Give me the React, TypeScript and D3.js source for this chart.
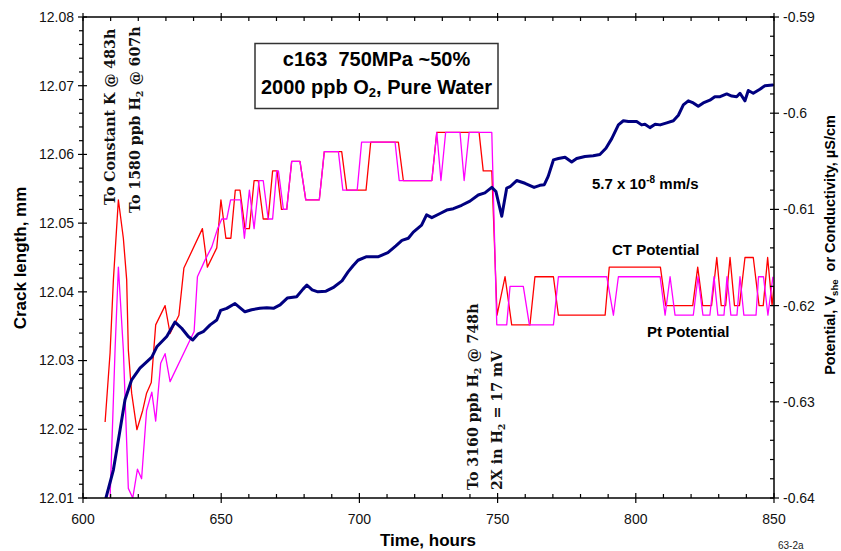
import React from "react";
import * as d3 from "d3";

// ---- data ----
const xTicks = [600, 650, 700, 750, 800, 850];
const leftTicks = [12.01, 12.02, 12.03, 12.04, 12.05, 12.06, 12.07, 12.08];
const rightTicks = [-0.64, -0.63, -0.62, -0.61, -0.6, -0.59];

// crack length (mm) vs time (h)
const crackLength: [number, number][] = [
  [608.3,12.0100],[611.0,12.0141],[613.4,12.0199],[615.2,12.0243],[617.6,12.0272],[620.6,12.0289],[624.9,12.0305],[626.7,12.0320],[630.3,12.0335],[633.3,12.0356],[635.7,12.0347],[638.1,12.0335],[639.7,12.0330],[641.7,12.0339],[643.5,12.0342],[646.0,12.0352],[648.4,12.0359],[649.8,12.0373],[652.0,12.0376],[655.0,12.0383],[658.6,12.0371],[661.0,12.0374],[664.0,12.0376],[666.5,12.0377],[668.9,12.0376],[671.3,12.0381],[673.9,12.0391],[677.3,12.0393],[679.6,12.0404],[681.0,12.0410],[682.9,12.0403],[685.0,12.0400],[687.9,12.0401],[690.8,12.0407],[693.7,12.0416],[695.9,12.0429],[697.7,12.0438],[699.5,12.0446],[702.4,12.0451],[706.7,12.0451],[710.3,12.0457],[713.2,12.0467],[715.4,12.0475],[717.7,12.0478],[719.5,12.0487],[722.5,12.0497],[724.3,12.0512],[726.2,12.0508],[729.2,12.0514],[731.6,12.0519],[734.0,12.0521],[737.0,12.0526],[740.0,12.0532],[743.0,12.0541],[745.4,12.0544],[747.9,12.0552],[749.4,12.0546],[751.5,12.0510],[753.3,12.0551],[754.5,12.0553],[756.9,12.0562],[759.9,12.0558],[763.2,12.0552],[765.3,12.0555],[766.9,12.0556],[768.3,12.0568],[770.2,12.0592],[772.0,12.0594],[774.4,12.0596],[776.8,12.0589],[778.6,12.0594],[781.6,12.0597],[784.6,12.0598],[787.0,12.0600],[789.2,12.0609],[791.3,12.0623],[793.7,12.0643],[795.5,12.0649],[797.3,12.0648],[800.3,12.0648],[802.1,12.0643],[803.3,12.0644],[805.1,12.0639],[807.0,12.0644],[808.8,12.0643],[811.2,12.0646],[813.6,12.0649],[815.4,12.0657],[817.2,12.0672],[819.0,12.0678],[820.8,12.0675],[822.6,12.0670],[824.4,12.0675],[826.8,12.0679],[828.6,12.0684],[830.5,12.0684],[832.9,12.0688],[834.7,12.0685],[836.5,12.0684],[837.7,12.0689],[839.5,12.0678],[840.7,12.0693],[842.5,12.0689],[844.9,12.0695],[846.7,12.0700],[849.5,12.0701]
];

// CT potential (V she) vs time (h)
const ctPotential: [number, number][] = [
  [608.0,-0.6321],[609.8,-0.6249],[611.0,-0.6173],[612.8,-0.6090],[614.6,-0.6130],[615.8,-0.6173],[616.4,-0.6246],[617.6,-0.6291],[619.5,-0.6329],[621.6,-0.6309],[623.0,-0.6291],[624.7,-0.6280],[626.3,-0.6220],[629.7,-0.6200],[631.5,-0.6229],[634.7,-0.6210],[636.5,-0.6161],[643.2,-0.6120],[645.0,-0.6160],[648.4,-0.6140],[649.9,-0.6090],[651.7,-0.6130],[653.5,-0.6130],[655.1,-0.6080],[656.8,-0.6080],[658.6,-0.6120],[660.2,-0.6120],[661.9,-0.6070],[663.4,-0.6070],[665.2,-0.6110],[667.0,-0.6110],[668.6,-0.6060],[670.2,-0.6060],[671.8,-0.6100],[673.7,-0.6100],[675.5,-0.6050],[678.5,-0.6050],[680.6,-0.6090],[685.5,-0.6090],[687.3,-0.6040],[693.6,-0.6040],[695.4,-0.6080],[702.4,-0.6080],[704.1,-0.6030],[714.1,-0.6030],[715.9,-0.6070],[726.2,-0.6070],[728.0,-0.6020],[743.3,-0.6020],[744.8,-0.6060],[747.9,-0.6060],[749.8,-0.6210],[752.7,-0.6170],[755.1,-0.6220],[761.7,-0.6220],[763.5,-0.6170],[770.2,-0.6170],[772.0,-0.6210],[788.9,-0.6210],[790.4,-0.6160],[808.9,-0.6160],[810.8,-0.6200],[820.6,-0.6200],[822.4,-0.6160],[824.2,-0.6200],[827.4,-0.6200],[829.3,-0.6150],[830.9,-0.6200],[832.5,-0.6200],[834.1,-0.6150],[835.7,-0.6200],[837.5,-0.6200],[839.5,-0.6150],[842.5,-0.6150],[844.6,-0.6200],[846.1,-0.6200],[847.7,-0.6150],[849.3,-0.6200],[850.0,-0.6180]
];

// Pt potential (V she) vs time (h)
const ptPotential: [number, number][] = [
  [609.8,-0.6400],[611.6,-0.6246],[612.8,-0.6160],[614.6,-0.6246],[616.4,-0.6390],[618.0,-0.6400],[619.7,-0.6370],[621.2,-0.6380],[623.0,-0.6309],[624.9,-0.6290],[626.3,-0.6320],[628.1,-0.6260],[629.7,-0.6250],[631.5,-0.6279],[640.2,-0.6227],[641.4,-0.6170],[644.1,-0.6153],[646.6,-0.6139],[648.7,-0.6120],[650.2,-0.6110],[652.0,-0.6110],[653.4,-0.6090],[657.0,-0.6090],[658.4,-0.6130],[660.2,-0.6080],[661.9,-0.6120],[663.7,-0.6070],[665.2,-0.6070],[667.0,-0.6110],[668.6,-0.6110],[670.1,-0.6060],[670.7,-0.6060],[672.5,-0.6100],[673.7,-0.6100],[675.5,-0.6050],[678.5,-0.6050],[680.6,-0.6090],[685.5,-0.6090],[687.3,-0.6040],[692.4,-0.6040],[694.0,-0.6080],[699.2,-0.6080],[700.8,-0.6030],[712.9,-0.6030],[714.4,-0.6070],[726.2,-0.6070],[728.0,-0.6020],[729.5,-0.6070],[731.2,-0.6020],[736.4,-0.6020],[737.9,-0.6070],[739.7,-0.6020],[747.9,-0.6020],[749.7,-0.6220],[753.3,-0.6220],[754.5,-0.6180],[759.3,-0.6180],[761.5,-0.6220],[770.2,-0.6220],[772.0,-0.6170],[789.5,-0.6170],[791.9,-0.6210],[793.7,-0.6170],[808.8,-0.6170],[810.6,-0.6210],[812.4,-0.6170],[814.2,-0.6210],[820.8,-0.6210],[822.5,-0.6170],[824.3,-0.6210],[826.8,-0.6210],[828.3,-0.6170],[829.7,-0.6210],[831.9,-0.6210],[833.0,-0.6170],[834.4,-0.6210],[836.6,-0.6210],[837.7,-0.6170],[839.1,-0.6210],[843.5,-0.6210],[844.4,-0.6170],[846.2,-0.6170],[847.8,-0.6210],[849.6,-0.6170]
];

const SANS = "'Liberation Sans', Arial, Helvetica, sans-serif";
const SERIF = "'DejaVu Serif', serif";

export default function App() {
  const W = 841, H = 551;
  const L = 83, R = 774, T = 17, B = 498;
  const x = d3.scaleLinear().domain([600, 850]).range([L, R]);
  const yL = d3.scaleLinear().domain([12.01, 12.08]).range([B, T]);
  const yR = d3.scaleLinear().domain([-0.64, -0.59]).range([B, T]);

  const lineL = d3.line<[number, number]>().x(d => x(d[0])).y(d => yL(d[1]));
  const lineR = d3.line<[number, number]>().x(d => x(d[0])).y(d => yR(d[1]));

  const xMinor = d3.range(600, 851, 10).filter(v => v % 50 !== 0);
  const lMinor = d3.range(0, 36).map(i => 12.01 + i * 0.002).filter((v, i) => i % 5 !== 0);
  const rMinor = d3.range(0, 26).map(i => -0.64 + i * 0.002).filter((v, i) => i % 5 !== 0);

  const fmtL = (v: number) => v.toFixed(2);
  const fmtR = (v: number) => d3.format(".2~f")(v).replace("−", "-");

  return (
    <svg width={W} height={H} style={{ position: "absolute", left: 0, top: 0, background: "#fff" }} fontFamily={SANS}>
      <defs>
        <clipPath id="plot"><rect x={L} y={T} width={R - L} height={B - T} /></clipPath>
      </defs>
      <rect x={0} y={0} width={W} height={H} fill="#fff" />

      {/* series */}
      <g clipPath="url(#plot)" fill="none" strokeLinejoin="round">
        <path d={lineR(ctPotential) || ""} stroke="#ff0000" strokeWidth={1.3} />
        <path d={lineR(ptPotential) || ""} stroke="#ff00ff" strokeWidth={1.3} />
        <path d={lineL(crackLength) || ""} stroke="#000080" strokeWidth={3} strokeLinecap="round" />
      </g>

      {/* frame */}
      <g stroke="#000" strokeWidth={1.5} fill="none">
        <line x1={L} y1={T} x2={R} y2={T} />
        <line x1={L} y1={B} x2={R} y2={B} />
        <line x1={L} y1={T} x2={L} y2={B} />
        <line x1={R} y1={T} x2={R} y2={B} />
      </g>

      {/* ticks */}
      <g stroke="#000" strokeWidth={1.2}>
        {xTicks.map(v => (
          <g key={"xt" + v}>
            <line x1={x(v)} x2={x(v)} y1={B - 5} y2={B + 5} />
            <line x1={x(v)} x2={x(v)} y1={T - 4} y2={T + 4} />
          </g>
        ))}
        {xMinor.map(v => (
          <g key={"xm" + v}>
            <line x1={x(v)} x2={x(v)} y1={B - 4} y2={B} />
            <line x1={x(v)} x2={x(v)} y1={T} y2={T + 4} />
          </g>
        ))}
        {leftTicks.map(v => (
          <line key={"lt" + v} x1={L - 5} x2={L + 4} y1={yL(v)} y2={yL(v)} />
        ))}
        {lMinor.map((v, i) => (
          <line key={"lm" + i} x1={L - 4} x2={L} y1={yL(v)} y2={yL(v)} />
        ))}
        {rightTicks.map(v => (
          <line key={"rt" + v} x1={R - 4} x2={R + 5} y1={yR(v)} y2={yR(v)} />
        ))}
        {rMinor.map((v, i) => (
          <line key={"rm" + i} x1={R - 4} x2={R} y1={yR(v)} y2={yR(v)} />
        ))}
      </g>

      {/* tick labels */}
      <g fontSize={14} fill="#111">
        {xTicks.map(v => (
          <text key={"xl" + v} x={x(v)} y={524} textAnchor="middle">{v}</text>
        ))}
        {leftTicks.map(v => (
          <text key={"ll" + v} x={74} y={yL(v)} dy="0.35em" textAnchor="end">{fmtL(v)}</text>
        ))}
        {rightTicks.map(v => (
          <text key={"rl" + v} x={783} y={yR(v)} dy="0.35em" textAnchor="start">{fmtR(v)}</text>
        ))}
      </g>

      {/* axis titles */}
      <text x={428} y={546} textAnchor="middle" fontSize={17} fontWeight="bold">Time, hours</text>
      <text transform={`translate(26,258) rotate(-90)`} textAnchor="middle" fontSize={17} fontWeight="bold">Crack length, mm</text>
      <text transform={`translate(835,245) rotate(-90)`} textAnchor="middle" fontSize={14.5} fontWeight="bold" style={{ whiteSpace: "pre" }}>
        Potential, V<tspan fontSize={9.5} dy={3}>she</tspan><tspan dy={-3}>{"  or Conductivity, µS/cm"}</tspan>
      </text>
      <text x={778} y={549} fontSize={10} fill="#222">63-2a</text>

      {/* title box */}
      <rect x={255} y={43.5} width={243} height={65} fill="#fff" stroke="#333" strokeWidth={1.5} />
      <text x={376.5} y={66} textAnchor="middle" fontSize={20} fontWeight="bold" style={{ whiteSpace: "pre" }}>c163  750MPa ~50%</text>
      <text x={376.5} y={94} textAnchor="middle" fontSize={20} fontWeight="bold">
        2000 ppb O<tspan fontSize={13} dy={3}>2</tspan><tspan dy={-3}>, Pure Water</tspan>
      </text>

      {/* in-plot labels */}
      <text x={592} y={189} fontSize={15} fontWeight="bold">
        5.7 x 10<tspan fontSize={10} dy={-6}>-8</tspan><tspan dy={6}> mm/s</tspan>
      </text>
      <text x={612} y={255} fontSize={15} fontWeight="bold">CT Potential</text>
      <text x={647} y={337} fontSize={15} fontWeight="bold">Pt Potential</text>

      {/* vertical annotations */}
      <g fontFamily={SERIF} fontWeight="bold" fontSize={14.2} fill="#111">
        <text transform={`translate(115,205) rotate(-90)`}>To Constant K @ 483h</text>
        <text transform={`translate(140,213) rotate(-90)`}>
          To 1580 ppb H<tspan fontSize={9.5} dy={3}>2</tspan><tspan dy={-3}> @ 607h</tspan>
        </text>
        <text transform={`translate(478,490) rotate(-90)`}>
          To 3160 ppb H<tspan fontSize={9.5} dy={3}>2</tspan><tspan dy={-3}> @ 748h</tspan>
        </text>
        <text transform={`translate(501.5,490) rotate(-90)`}>
          2X in H<tspan fontSize={9.5} dy={3}>2</tspan><tspan dy={-3}> = 17 mV</tspan>
        </text>
      </g>
    </svg>
  );
}
